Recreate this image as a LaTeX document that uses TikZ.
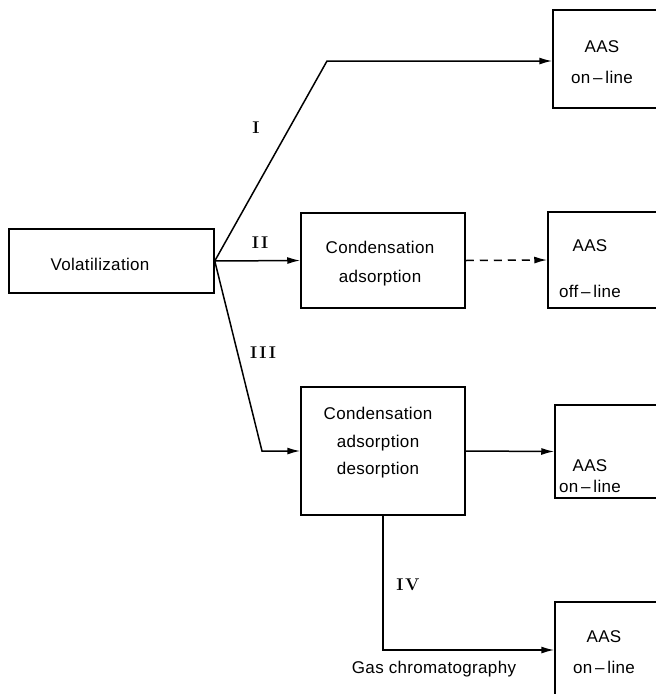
\documentclass[tikz,border=0pt]{standalone}
\usepackage{fontspec}
\setmainfont{Liberation Sans}[LetterSpace=2]
\newfontfamily\romfont{Latin Modern Roman}[LetterSpace=10]
\usetikzlibrary{arrows.meta,calc}
\newcommand*{\aasW}{130pt}

\tikzset{
	box/.style={draw,rectangle,line width=1.5pt,inner sep=0pt},
	arr/.style={-{Latex[length=13pt,width=7pt]},line width=1.5pt},
	txt/.style={align=center,inner sep=0pt},
	num/.style={inner sep=0pt,font=\romfont\bfseries\fontsize{17}{20}\selectfont},
}

\begin{document}
\begin{tikzpicture}[x=1pt,y=-1pt,font=\fontsize{17}{20}\selectfont]
	
	\useasboundingbox (0,0) rectangle (656,694);
	\clip (0,0) rectangle (656,694);
	
	% boxes
	\node[box,minimum width=205pt,minimum height=64pt] (vol) at (111.5,261) {};
	\node[txt] (volt) at (100,264) {Volatilization};
	
	\node[box,minimum width=164pt,minimum height=95pt] (cond1) at (383,260.5) {};
	\node[txt,font=\fontsize{17}{29}\selectfont] (cond1t) at (380,264) {Condensation\\adsorption};
	
	\node[box,minimum width=164pt,minimum height=128pt] (cond2) at (383,451) {};
	\node[txt,font=\fontsize{17}{27.5}\selectfont] (cond2t) at (378,443) {Condensation\\adsorption\\desorption};
	
	\node[box,minimum width=\aasW,minimum height=98pt] (aas1) at (618,59) {};
	\node[txt,font=\fontsize{17}{31}\selectfont] (aas1t) at (602,62) {AAS\\on\,--\,line};
	
	\node[box,minimum width=\aasW,minimum height=96pt] (aas2) at (613,260) {};
	\node[txt,font=\fontsize{17}{46}\selectfont] (aas2t) at (590,269) {AAS\\off\,--\,line};
	
	\node[box,minimum width=\aasW,minimum height=93pt] (aas3) at (620,451.5) {};
	\node[txt,font=\fontsize{17}{21}\selectfont] (aas3t) at (590,476) {AAS\\on\,--\,line};
	
	\node[box,minimum width=\aasW,minimum height=120pt] (aas4) at (620,662) {};
	\node[txt,font=\fontsize{17}{31}\selectfont] (aas4t) at (604,652) {AAS\\on\,--\,line};
	
	% bends
	\coordinate (kI) at (327,61);
	\coordinate (kIII) at (262,451);
	\coordinate (kIV) at (383,650);
	
	% connectors
	\draw[arr] (vol.east) -- (kI) -- (kI -| aas1.west);
	\draw[arr] (vol.east) -- (cond1.west);
	\draw[arr,dash pattern=on 8pt off 6pt] (cond1.east) -- (aas2.west);
	\draw[arr] (vol.east) -- (kIII) -- (cond2.west);
	\draw[arr] (cond2.east) -- (aas3.west);
	\draw[arr] (cond2.south) -- (kIV) -- (kIV -| aas4.west);
	
	% labels
	\node[num] (lI) at (256,128) {I};
	\node[num] (lII) at (260,243) {II};
	\node[num] (lIII) at (263,353) {III};
	\node[num] (lIV) at (408,585) {IV};
	\node[txt] (gc) at (434,669) {Gas chromatography};
	
\end{tikzpicture}
\end{document}
